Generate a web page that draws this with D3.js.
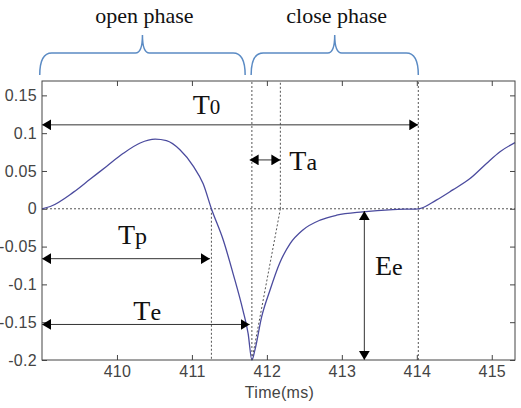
<!DOCTYPE html>
<html>
<head>
<meta charset="utf-8">
<script src="https://cdn.jsdelivr.net/npm/d3@7"></script>
<style>
    body { margin: 0; background: #fff; }
    svg { display: block; }
</style>
</head>
<body>
<div id="chart"></div>
<script>
// glottal flow derivative
const timeMs = [409.0, 409.11, 409.42, 409.64, 409.86, 410.08, 410.31, 410.51, 410.66, 410.84, 411.02, 411.15, 411.26, 411.42, 411.55, 411.68, 411.75, 411.8, 411.84, 411.93, 412.04, 412.17, 412.31, 412.48, 412.71, 412.93, 413.28, 413.68, 414.02, 414.26, 414.48, 414.71, 414.93, 415.11, 415.31]
const amplitude = [0, 0.003, 0.022, 0.039, 0.056, 0.073, 0.087, 0.092, 0.09, 0.078, 0.056, 0.033, 0, -0.042, -0.086, -0.134, -0.165, -0.2, -0.187, -0.143, -0.108, -0.072, -0.046, -0.028, -0.015, -0.0085, -0.004, -0.001, 0, 0.0115, 0.025, 0.04, 0.06, 0.0755, 0.0875]

const xTicks = [410, 411, 412, 413, 414, 415]
const yTicks = [0.15, 0.1, 0.05, 0, -0.05, -0.1, -0.15, -0.2]

// horizontal double arrows: name, subscript, from, to, level
const arrowNames = ['T', 'T', 'T', 'T']
const arrowSubs = ['0', 'a', 'p', 'e']
const arrowFrom = [409, 411.77, 409, 409]
const arrowTo = [414.02, 412.18, 411.24, 411.77]
const arrowLevel = [0.111, 0.0646, -0.066, -0.153]

// Ee vertical arrow
const eeTime = 413.3
const eeRange = [-0.003, -0.2]

// dashed guides: time, from value, to value (null = top of plot)
const guideTime = [411.26, 411.8, 412.18, 414.02]
const guideFrom = [0, -0.2, 0, -0.2]
const guideTo = [-0.2, null, null, null]

// tangent line of return phase
const tangentTime = [411.8, 412.18]
const tangentValue = [-0.2, 0]

const phaseNames = ['open phase', 'close phase']
const phaseFrom = [408.97, 411.79]
const phaseTo = [411.71, 414.02]

const width = 521, height = 408
const margin = {left: 42, right: 6, top: 81, bottom: 48}

let svg = d3.select('#chart').append('svg')
    .attr('width', width)
    .attr('height', height)

let x = d3.scaleLinear().domain([409, 415.31]).range([margin.left, width - margin.right])
let y = d3.scaleLinear().domain([-0.2, 0.169]).range([height - margin.bottom, margin.top])

let defs = svg.append('defs')
defs.append('marker')
    .attr('id', 'head')
    .attr('viewBox', '0 0 10 12')
    .attr('refX', 10)
    .attr('refY', 6)
    .attr('markerUnits', 'userSpaceOnUse')
    .attr('markerWidth', 9)
    .attr('markerHeight', 11)
    .attr('orient', 'auto-start-reverse')
    .append('path')
    .attr('d', 'M0,0 L10,6 L0,12 Z')
    .attr('fill', '#000')

let fmt = d => d === 0 ? '0' : (d < 0 ? '-' : '') + String(Math.abs(d))

// axes, ticks pointing inward
let axisStyle = function(g) {
    g.select('.domain').remove()
    g.selectAll('line').attr('stroke', '#444')
    g.selectAll('text')
        .attr('fill', '#444')
        .attr('font-family', 'Liberation Sans, Arial, sans-serif')
        .attr('font-size', '16px')
        .attr('letter-spacing', '0.3px')
}

svg.append('g')
    .attr('transform', `translate(0,${y(-0.2)})`)
    .call(d3.axisBottom(x).tickValues(xTicks).tickSizeInner(-5).tickSizeOuter(0).tickPadding(6).tickFormat(d3.format('d')))
    .call(axisStyle)
svg.append('g')
    .attr('transform', `translate(0,${margin.top})`)
    .call(d3.axisTop(x).tickValues(xTicks).tickSizeInner(-5).tickSizeOuter(0).tickFormat(''))
    .call(axisStyle)
svg.append('g')
    .attr('transform', `translate(${margin.left},0)`)
    .call(d3.axisLeft(y).tickValues(yTicks).tickSizeInner(-5).tickSizeOuter(0).tickPadding(5).tickFormat(fmt))
    .call(axisStyle)
svg.append('g')
    .attr('transform', `translate(${width - margin.right},0)`)
    .call(d3.axisRight(y).tickValues(yTicks).tickSizeInner(-5).tickSizeOuter(0).tickFormat(''))
    .call(axisStyle)

svg.append('text')
    .attr('x', (x(409) + x(415.31)) / 2 + 1)
    .attr('y', 398)
    .attr('text-anchor', 'middle')
    .attr('fill', '#444')
    .attr('font-family', 'Liberation Sans, Arial, sans-serif')
    .attr('font-size', '16px')
    .attr('letter-spacing', '0.3px')
    .text('Time(ms)')

// dotted guides
let guides = svg.append('g')
    .attr('stroke', '#555')
    .attr('stroke-width', 1)
    .attr('stroke-dasharray', '2,2')
    .attr('fill', 'none')

guides.append('line')
    .attr('x1', x(409)).attr('x2', x(415.31))
    .attr('y1', y(0)).attr('y2', y(0))

guideTime.forEach(function(t, i) {
    guides.append('line')
        .attr('x1', x(t)).attr('x2', x(t))
        .attr('y1', y(guideFrom[i]))
        .attr('y2', guideTo[i] === null ? margin.top : y(guideTo[i]))
})

guides.append('line')
    .attr('x1', x(tangentTime[0])).attr('y1', y(tangentValue[0]))
    .attr('x2', x(tangentTime[1])).attr('y2', y(tangentValue[1]))

// the waveform
let line = d3.line()
    .x((d, i) => x(timeMs[i]))
    .y(d => y(d))
    .curve(d3.curveMonotoneX)

svg.append('path')
    .datum(amplitude)
    .attr('d', line)
    .attr('fill', 'none')
    .attr('stroke', '#4b4b9e')
    .attr('stroke-width', 1.3)

// arrows
let arrows = svg.append('g')
arrowNames.forEach(function(name, i) {
    arrows.append('line')
        .attr('x1', x(arrowFrom[i])).attr('x2', x(arrowTo[i]))
        .attr('y1', y(arrowLevel[i])).attr('y2', y(arrowLevel[i]))
        .attr('stroke', '#333')
        .attr('stroke-width', 1)
        .attr('marker-start', 'url(#head)')
        .attr('marker-end', 'url(#head)')
})
arrows.append('line')
    .attr('x1', x(eeTime)).attr('x2', x(eeTime))
    .attr('y1', y(eeRange[0])).attr('y2', y(eeRange[1]))
    .attr('stroke', '#333')
    .attr('stroke-width', 1)
    .attr('marker-start', 'url(#head)')
    .attr('marker-end', 'url(#head)')

// labels in Times, with the small second letter
let labelPos = [[192.7, 114], [289.3, 170], [118, 244], [133.3, 320]]
let labels = arrowNames.map((n, i) => ({big: n, small: arrowSubs[i], x: labelPos[i][0], y: labelPos[i][1]}))
labels.push({big: 'E', small: 'e', x: 375, y: 275})

labels.forEach(function(l) {
    let t = svg.append('text')
        .attr('x', l.x)
        .attr('y', l.y)
        .attr('font-family', 'Liberation Serif, Times New Roman, serif')
        .attr('fill', '#111')
    t.append('tspan').attr('font-size', '28px').text(l.big)
    t.append('tspan').attr('font-size', l.small === '0' ? '21px' : '24px').text(l.small)
})

// phase braces
let braceTop = 35, braceMid = 53, braceEnd = 75
phaseNames.forEach(function(name, i) {
    let x0 = x(phaseFrom[i]), x1 = x(phaseTo[i]), xm = (x0 + x1) / 2
    let p = d3.path()
    p.moveTo(x0, braceEnd)
    p.quadraticCurveTo(x0, braceMid, x0 + 12, braceMid)
    p.lineTo(xm - 7, braceMid)
    p.quadraticCurveTo(xm, braceMid, xm, braceTop)
    p.quadraticCurveTo(xm, braceMid, xm + 7, braceMid)
    p.lineTo(x1 - 12, braceMid)
    p.quadraticCurveTo(x1, braceMid, x1, braceEnd)
    svg.append('path')
        .attr('d', p.toString())
        .attr('fill', 'none')
        .attr('stroke', '#5b8bc4')
        .attr('stroke-width', 1.5)
    svg.append('text')
        .attr('x', xm + 2)
        .attr('y', 22.5)
        .attr('text-anchor', 'middle')
        .attr('font-family', 'Liberation Serif, Times New Roman, serif')
        .attr('font-size', '22px')
        .attr('fill', '#111')
        .text(name)
})

// frame
svg.append('rect')
    .attr('x', x(409)).attr('y', margin.top)
    .attr('width', x(415.31) - x(409))
    .attr('height', y(-0.2) - margin.top)
    .attr('fill', 'none')
    .attr('stroke', '#444')
    .attr('stroke-width', 1)
</script>
</body>
</html>
